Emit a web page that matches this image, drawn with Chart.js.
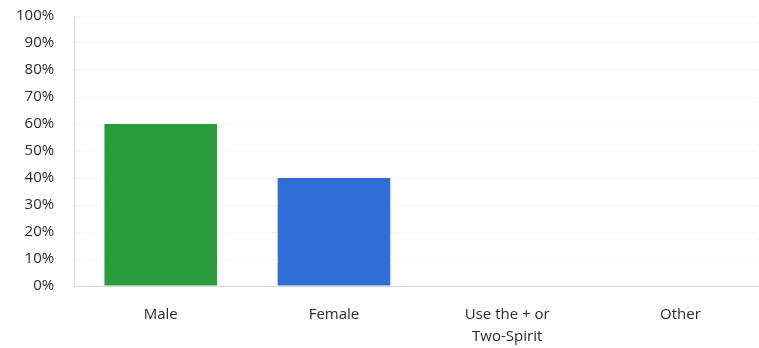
<!DOCTYPE html>
<html><head><meta charset="utf-8">
<script src="https://cdn.jsdelivr.net/npm/chart.js@4"></script>
<style>html,body{margin:0;padding:0;overflow:hidden;background:#fff;width:759px;height:348px}
canvas{position:absolute;left:0;top:0}</style>
</head><body><canvas id="c" width="767" height="348"></canvas>
<script>
const categories = ["Male", "Female", ["Use the + or", "Two-Spirit"], "Other"];
const values = [60, 40, 0, 0];
const barColors = ["#2b9c3e", "#2f6ed6", "#2b9c3e", "#2f6ed6"];
const yTicks = [0,10,20,30,40,50,60,70,80,90,100];

new Chart(document.getElementById('c'), {
  type: 'bar',
  data: { labels: categories, datasets: [{ data: values, backgroundColor: barColors, barPercentage: 0.65, categoryPercentage: 1 }] },
  options: {
    responsive: false, animation: false,
    layout: { padding: { top: 16, left: -4, right: 0, bottom: -17 } },
    plugins: { legend: { display: false }, tooltip: { enabled: false } },
    scales: {
      x: {
        grid: { display: false, drawTicks: false },
        border: { display: true, color: '#d8d8d8' },
        ticks: { color: '#2a2a2a', font: { family: 'Open Sans', size: 15, lineHeight: 1.5 }, padding: 17, maxRotation: 0, autoSkip: false }
      },
      y: {
        min: 0, max: 100,
        afterBuildTicks: (a) => { a.ticks = yTicks.map(v => ({ value: v })); },
        afterFit: (s) => { s.paddingTop = 0; s.paddingBottom = 0; },
        grid: { color: '#ececec', drawTicks: false },
        border: { display: true, color: '#d8d8d8', dash: [2,2] },
        ticks: { color: '#2a2a2a', font: { family: 'Open Sans', size: 15, weight: '500' }, padding: 20, callback: v => v + '%' }
      }
    }
  }
});
</script></body></html>
